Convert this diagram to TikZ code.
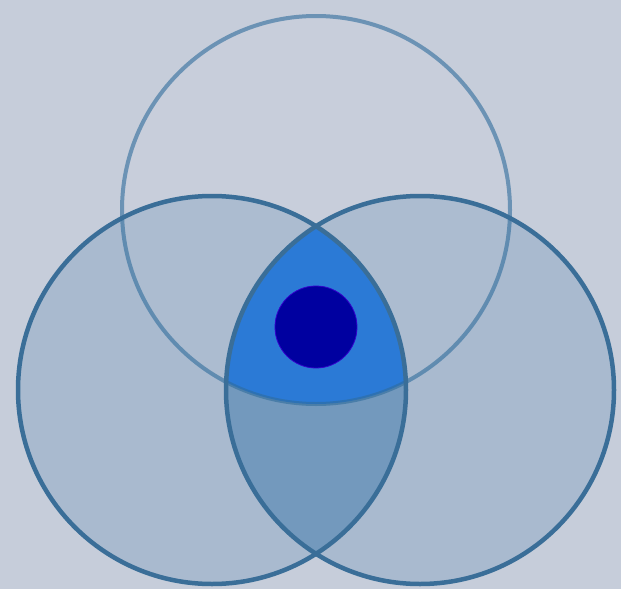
\documentclass[tikz,border=0pt]{standalone}
\usetikzlibrary{calc}
\definecolor{bg}{HTML}{C6CDDA}
\definecolor{sidefill}{HTML}{A9BACF}
\definecolor{lensfill}{HTML}{7399BD}
\definecolor{tripfill}{HTML}{2B7AD6}
\definecolor{rimdark}{HTML}{3A6E98}
\definecolor{rimtop}{HTML}{2F6C9C}
\definecolor{dotcol}{HTML}{0000A0}
\tikzset{
  siderim/.style={draw=rimdark, line width=4.5pt},
  toprim/.style={draw=rimtop, draw opacity=0.6, line width=4pt},
}
\begin{document}
\begin{tikzpicture}[x=1pt,y=-1pt]
\fill[bg] (0,0) rectangle (621,589);
\useasboundingbox (0,0) rectangle (621,589);
\coordinate (T) at (316,210);
\coordinate (L) at (212,390);
\coordinate (R) at (420,390);
\def\rr{194}
% side circle fills
\fill[sidefill] (L) circle (\rr);
\fill[sidefill] (R) circle (\rr);
% top circle faint tint
\fill[white, opacity=0.04] (T) circle (\rr);
% lens of left and right
\begin{scope}
  \clip (L) circle (\rr);
  \fill[lensfill] (R) circle (\rr);
\end{scope}
% triple intersection
\begin{scope}
  \clip (L) circle (\rr);
  \clip (R) circle (\rr);
  \fill[tripfill] (T) circle (\rr);
\end{scope}
% outlines
\draw[toprim] (T) circle (\rr);
\draw[siderim] (L) circle (\rr);
\draw[siderim] (R) circle (\rr);
% dot
\node[circle, fill=dotcol, draw=blue!60!violet, line width=0.8pt, minimum size=82pt, inner sep=0pt] (dot) at (316,327) {};
\end{tikzpicture}
\end{document}
